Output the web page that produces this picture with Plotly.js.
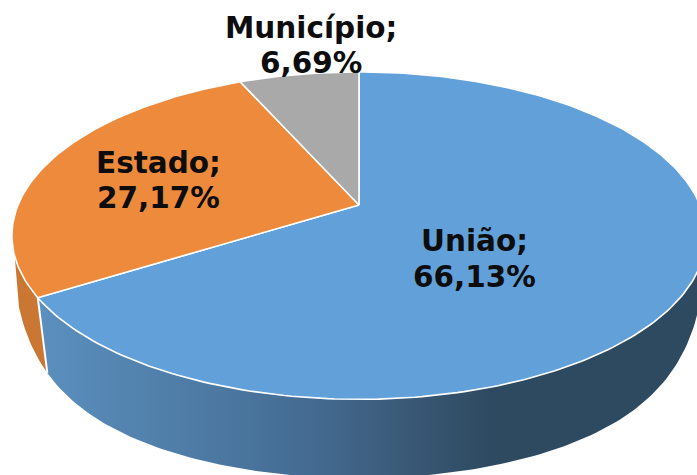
<!DOCTYPE html>
<html><head><meta charset="utf-8">
<script src="https://cdn.plot.ly/plotly-3.0.1.min.js"></script>
<style>html,body{margin:0;padding:0;background:#fff}#c{width:697px;height:475px}</style>
</head><body><div id="c"></div>
<script>
const categories = ["União", "Estado", "Município"];
const values = [66.13, 27.17, 6.69];
const topColors = ["#62a0d9", "#ed8a3c", "#a9a9a9"];
const labelX = [474, 158, 311];
const nameY = [241, 163, 28];
const valueY = [277, 198, 63];

// perspective projection of the tilted disc
const CX = 359, CY = 205, A = 158, B = 341, K = 0.187;
const RIM_MID = 235.5, RIM_RY = 163.5, DEPTH = 79;
function rim(deg) {
  const t = deg * Math.PI / 180, u = Math.sin(t), v = Math.cos(t), w = 1 + K * v;
  return [CX + B * u / w, CY - A * v / w];
}
function lower(deg) {
  const p = rim(deg), t = Math.max(0, (p[1] - RIM_MID) / RIM_RY);
  return [p[0], p[1] + DEPTH * (1 - Math.pow(1 - t, 3))];
}
function arc(fn, a, b) {
  const n = Math.max(2, Math.ceil(Math.abs(b - a))), out = [];
  for (let i = 0; i <= n; i++) out.push(fn(a + (b - a) * i / n));
  return out;
}
const total = values.reduce((s, v) => s + v, 0);
let acc = 0;
const edges = values.map(v => { const a = acc; acc += v / total * 360; return [a, acc]; });

const traces = [];
function poly(pts, extra) {
  traces.push(Object.assign({
    type: "scatter", mode: "lines", fill: "toself", hoverinfo: "skip", showlegend: false,
    x: pts.map(p => p[0]), y: pts.map(p => p[1])
  }, extra));
}
const seam = edges[0][1], seamLow = seam - 3.5, rightEnd = 92;
poly(arc(rim, seam, 252).concat(arc(lower, 248, seamLow)), {
  fillcolor: "#c97733", line: {color: "#c97733", width: 0}
});
poly(arc(rim, rightEnd, seam).concat(arc(lower, seamLow, rightEnd)), {
  line: {color: "#2e4a61", width: 0},
  fillgradient: {
    type: "horizontal", start: 40, stop: 490,
    colorscale: [[0, "#5b8fbe"], [0.3, "#4f7ea8"], [0.6, "#446b92"], [0.85, "#385672"], [1, "#2e4a61"]]
  }
});
traces.push({type: "scatter", mode: "lines", hoverinfo: "skip", showlegend: false,
  x: [rim(seam)[0], lower(seamLow)[0]], y: [rim(seam)[1], lower(seamLow)[1]],
  line: {color: "#ffffff", width: 2}});
edges.forEach((e, i) => {
  poly([[CX, CY]].concat(arc(rim, e[0], e[1])).concat([[CX, CY]]), {
    fillcolor: topColors[i], line: {color: "#ffffff", width: 1.6}
  });
});

function label(text, x, y) {
  return {x: x, y: y, xref: "x", yref: "y", showarrow: false,
    xanchor: "center", yanchor: "middle", align: "center",
    text: "<b>" + text + "</b>",
    font: {family: "DejaVu Sans", size: 29.5, color: "#0d0d0d"}};
}
const annotations = [];
categories.forEach((c, i) => {
  annotations.push(label(c + ";", labelX[i], nameY[i]));
  annotations.push(label(values[i].toFixed(2).replace(".", ",") + "%", labelX[i], valueY[i]));
});

Plotly.newPlot("c", traces, {
  width: 697, height: 475, margin: {l: 0, r: 0, t: 0, b: 0},
  paper_bgcolor: "#ffffff", plot_bgcolor: "#ffffff", showlegend: false,
  xaxis: {range: [0, 697], visible: false, fixedrange: true},
  yaxis: {range: [475, 0], visible: false, fixedrange: true},
  annotations: annotations
}, {displayModeBar: false, staticPlot: true});
</script></body></html>
